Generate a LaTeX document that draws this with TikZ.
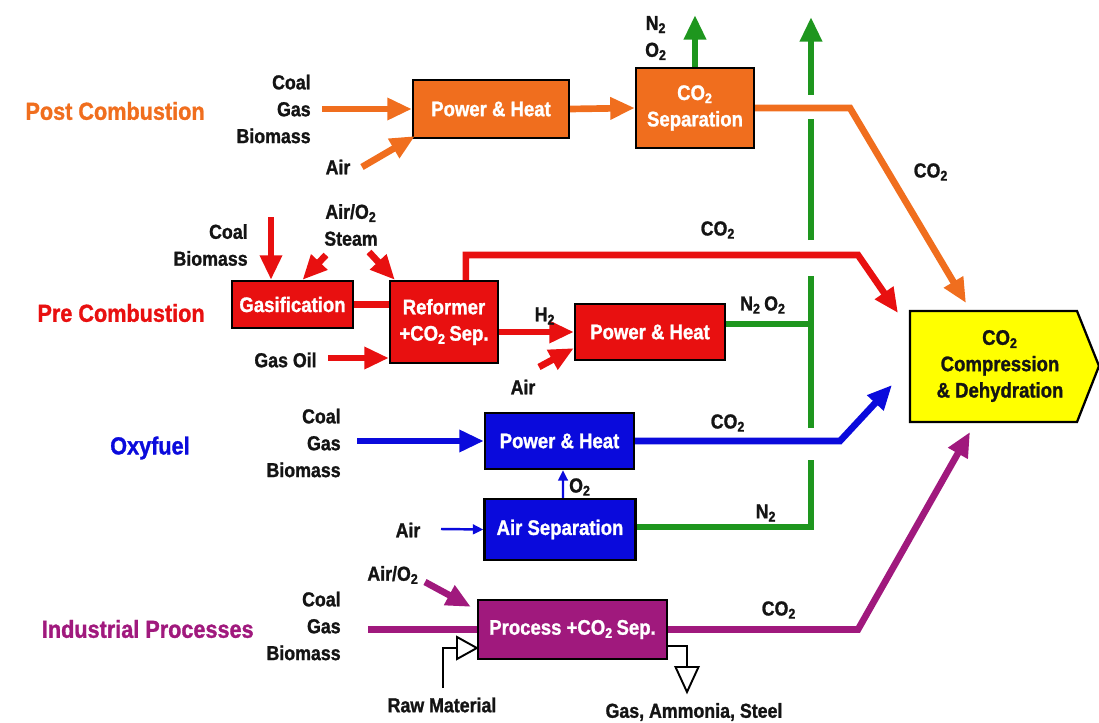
\documentclass[tikz,border=0pt]{standalone}
\usepackage{fontspec}
\setmainfont[FakeStretch=0.88, BoldFeatures={FakeBold=1.2}]{Liberation Sans}
\usetikzlibrary{arrows.meta,calc}
\definecolor{cor}{RGB}{240,110,30}
\definecolor{cre}{RGB}{232,16,16}
\definecolor{cbl}{RGB}{10,10,220}
\definecolor{cgr}{RGB}{30,150,30}
\definecolor{cpu}{RGB}{160,25,125}
\definecolor{cye}{RGB}{255,255,0}
\definecolor{ctx}{RGB}{20,20,20}
\newcommand\ssub[1]{\textsubscript{#1}}
\begin{document}
\begin{tikzpicture}[x=0.02cm,y=-0.02cm,
  every node/.style={font=\bfseries\fontsize{11.5}{15.3}\selectfont, text=ctx, inner sep=0pt, align=center},
  box/.style={draw=black, line width=1.3pt, text=white, align=center, font=\bfseries\fontsize{12}{15}\selectfont},
  cat/.style={font=\bfseries\fontsize{14}{16}\selectfont, anchor=east},
  lblr/.style={anchor=east, align=right},
  fl/.style={line width=3.8pt},
  ar/.style={fl, -{Triangle[length=14pt,width=12pt]}},
  thinar/.style={line width=1.4pt, -{Triangle[length=6pt,width=5.5pt]}},
  rawl/.style={line width=1.1pt, draw=black},
]
\useasboundingbox (0,0) rectangle (1099,723);

% ---------- boxes ----------
\node[box, fill=cor, minimum width=3.12cm, minimum height=1.16cm] (ph1) at (491,109) {Power \& Heat};
\node[box, fill=cor, minimum width=2.36cm, minimum height=1.6cm] (sep) at (695,108) {CO\ssub2\\Separation};
\node[box, fill=cre, minimum width=2.42cm, minimum height=0.94cm] (gas) at (292.5,304.5) {Gasification};
\node[box, fill=cre, minimum width=2.16cm, minimum height=1.64cm] (ref) at (444,322) {Reformer\\+CO\ssub2\,Sep.};
\node[box, fill=cre, minimum width=3.0cm, minimum height=1.12cm] (ph2) at (650,332) {Power \& Heat};
\node[box, fill=cbl, minimum width=2.98cm, minimum height=1.12cm] (ph3) at (559.5,441) {Power \& Heat};
\node[box, fill=cbl, minimum width=3.02cm, minimum height=1.22cm] (asu) at (560,529.5) {Air Separation};
\node[box, fill=cpu, minimum width=3.78cm, minimum height=1.18cm] (proc) at (572.5,629.5) {Process +CO\ssub2\,Sep.};
\draw[fill=cye, line width=1.3pt] (910,311) -- (1077,311) -- (1099,366) -- (1077,422) -- (910,422) -- cycle;
\node[font=\bfseries\fontsize{12}{15}\selectfont] (comp) at (1000,366) {CO\ssub2\\Compression\\\& Dehydration};

% ---------- category labels ----------
\node[cat, text=cor] (lpost) at (205,111) {Post Combustion};
\node[cat, text=cre] (lpre) at (205,313) {Pre Combustion};
\node[cat, text=cbl] (loxy) at (190,448) {Oxyfuel};
\node[cat, text=cpu] (lind) at (254,629) {Industrial Processes};

% ---------- post combustion ----------
\node[lblr] (pstk) at (311,109) {Coal\\Gas\\Biomass};
\node (pairl) at (338,167) {Air};
\coordinate (pin) at (322,109);
\coordinate (pair) at (362,167);
\draw[ar, cor] (pin) -- (ph1.west);
\draw[ar, cor] (pair) -- ($(ph1.south west)+(3,-3)$);
\draw[ar, cor] (ph1.east) -- (sep.west);
\coordinate (sepout) at (695,15);
\draw[ar, cgr] (sep.north) -- (sepout);
\node (nto) at (656,38) {N\ssub2\\O\ssub2};
\coordinate (ob) at (850,108);
\coordinate (ot) at (966,303);
\draw[ar, cor] (sep.east) -- (ob) -- (ot);
\node (co2o) at (931,172) {CO\ssub2};

% ---------- green vent line ----------
\coordinate (g0) at (811,527);
\coordinate (g1) at (811,460);
\coordinate (g2) at (811,428);
\coordinate (g3) at (811,276);
\coordinate (g4) at (811,240);
\coordinate (g5) at (811,119);
\coordinate (g6) at (811,95);
\coordinate (g7) at (811,17);
\draw[fl, cgr] (asu.east |- g0) -- (g0) -- (g1);
\draw[fl, cgr] (g2) -- (g3);
\draw[fl, cgr] (g4) -- (g5);
\draw[ar, cgr] (g6) -- (g7);
\coordinate (gj) at (811,324);
\draw[fl, cgr] (ph2.east |- gj) -- (gj);
\node (n2o2) at (763,305) {N\ssub2\,O\ssub2};
\node (n2l) at (766,513) {N\ssub2};

% ---------- pre combustion ----------
\node[lblr] (cbstk) at (248,245) {Coal\\Biomass};
\node (aost) at (351,225) {Air/O\ssub2\\Steam};
\coordinate (cbin) at (271,217);
\draw[ar, cre] (cbin) -- (cbin |- gas.north);
\coordinate (ao1) at (326,255);
\draw[ar, cre] (ao1) -- ($(gas.north)+(10,0)$);
\coordinate (ao2) at (369,252);
\draw[ar, cre] (ao2) -- ($(ref.north west)+(6,0)$);
\draw[fl, cre] (gas.east) -- (ref.west |- gas.east);
\node[lblr] (gol) at (317,360) {Gas Oil};
\coordinate (goin) at (328,358);
\draw[ar, cre] (goin) -- (ref.west |- goin);
\coordinate (rb) at (858,255);
\coordinate (rt) at (898,313);
\draw[ar, cre] ($(ref.north west)+(77,0)$) |- (rb) -- (rt);
\node (co2r) at (718,230) {CO\ssub2};
\draw[ar, cre] (ref.east |- ph2.west) -- (ph2.west);
\node (h2l) at (545,316) {H\ssub2};
\coordinate (pair2) at (539,367);
\draw[ar, cre] (pair2) -- ($(ph2.south west)+(0,-13)$);
\node (pairl2) at (523,387) {Air};

% ---------- oxyfuel ----------
\node[lblr] (ostk) at (341,443) {Coal\\Gas\\Biomass};
\coordinate (oin) at (357,441);
\draw[ar, cbl] (oin) -- (ph3.west);
\coordinate (bb) at (840,441);
\coordinate (bt) at (892,385);
\draw[ar, cbl] (ph3.east) -- (bb) -- (bt);
\node (co2b) at (728,423) {CO\ssub2};
\draw[thinar, cbl] ($(asu.north)+(3,0)$) -- ($(ph3.south)+(3.5,0)$);
\node (o2l) at (580,487) {O\ssub2};
\node (oairl) at (408,530) {Air};
\coordinate (oair) at (441,529);
\draw[thinar, cbl] (oair) -- (asu.west);

% ---------- industrial ----------
\node[lblr] (istk) at (341,626) {Coal\\Gas\\Biomass};
\coordinate (iin) at (368,629.5);
\draw[fl, cpu] (iin) -- (proc.west);
\coordinate (pb) at (858,629.5);
\coordinate (pt) at (970,432);
\draw[ar, cpu] (proc.east) -- (pb) -- (pt);
\node (co2p) at (779,610) {CO\ssub2};
\node (iaol) at (393,575) {Air/O\ssub2};
\coordinate (iao) at (425,582);
\draw[ar, cpu] (iao) -- ($(proc.north west)+(-6,8)$);
% raw material
\coordinate (rm0) at (443,688);
\coordinate (rm1) at (457,648);
\draw[rawl] (rm0) |- (rm1);
\draw[rawl, fill=white] (457,637) -- (proc.west |- rm1) -- (457,659) -- cycle;
\node (rawlbl) at (442,705) {Raw Material};
% product
\coordinate (pr0) at (687,646);
\coordinate (pr1) at (687,667);
\draw[rawl] (proc.east |- pr0) -- (pr0) -- (pr1);
\draw[rawl, fill=white] (675.5,667) -- (698.5,667) -- (687,692) -- cycle;
\node (prodl) at (694,712) {Gas, Ammonia, Steel};
\end{tikzpicture}
\end{document}
